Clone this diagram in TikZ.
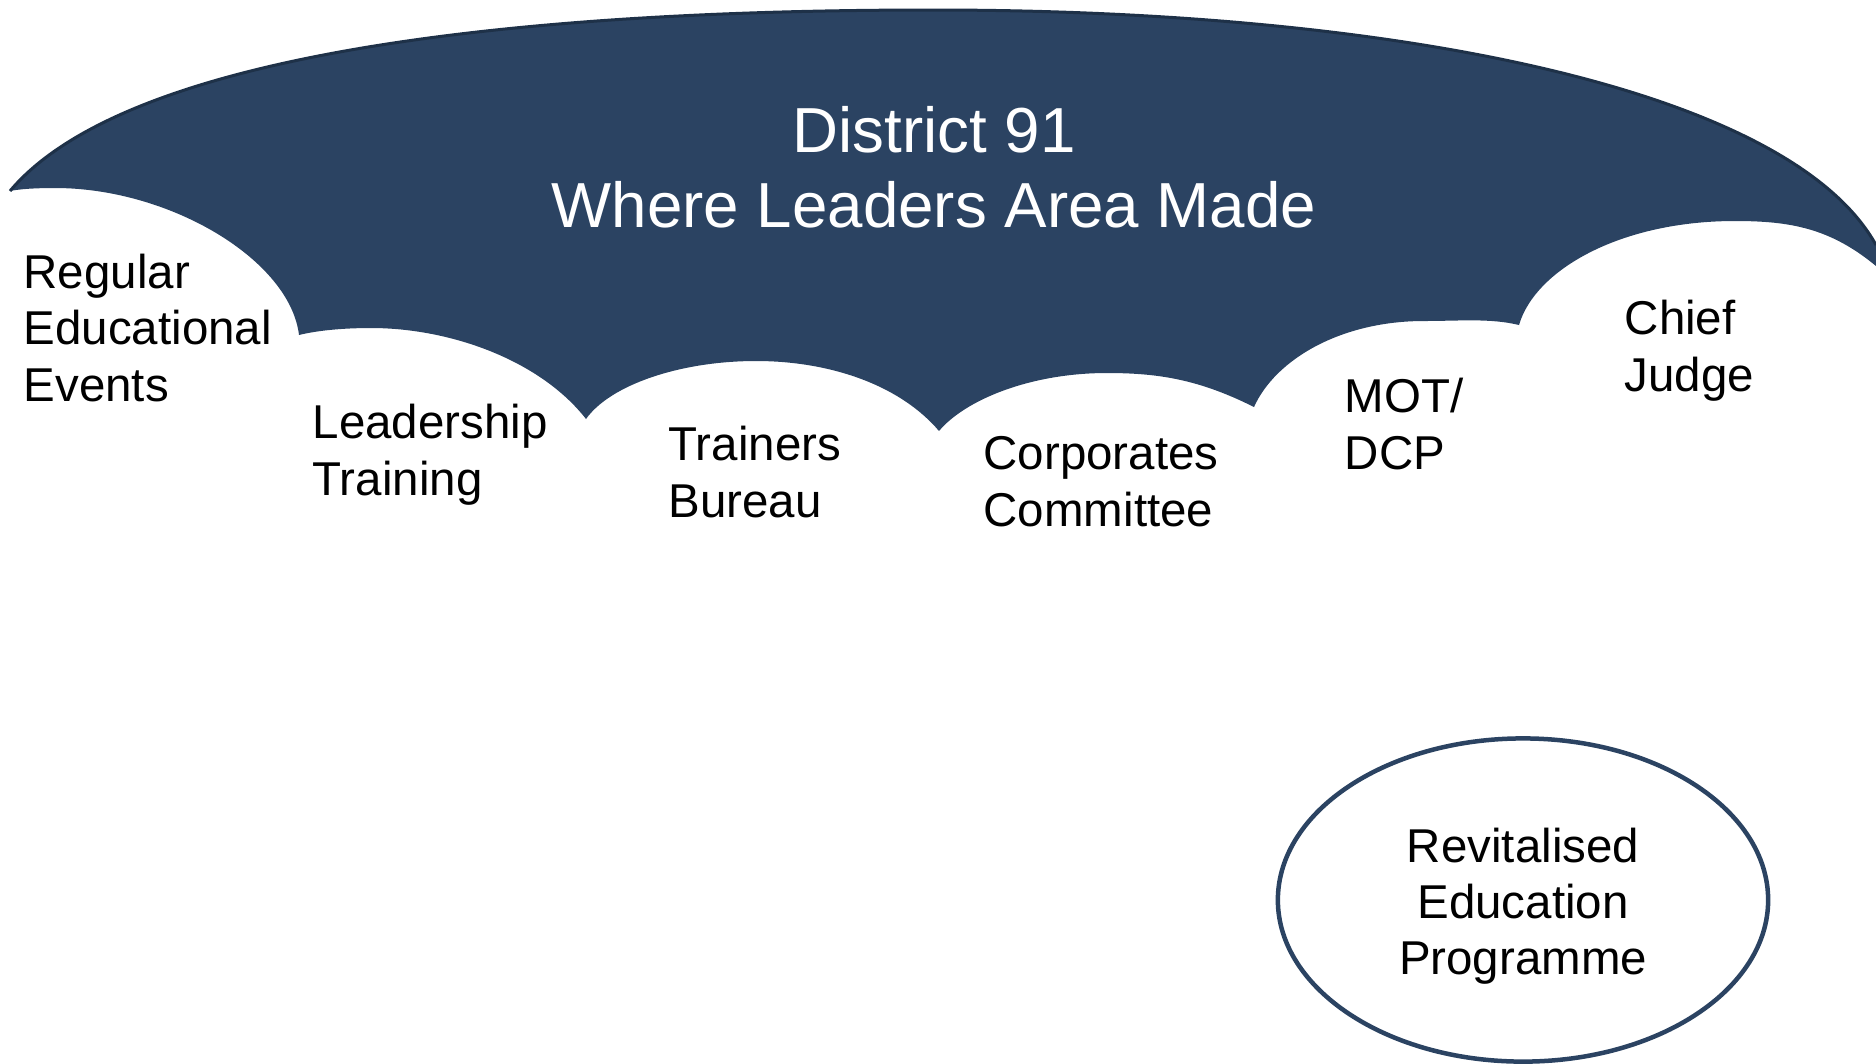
\documentclass[tikz,border=0pt]{standalone}
\usepackage{fontspec}
\setmainfont{Liberation Sans}
\usetikzlibrary{shapes.geometric,positioning}
\definecolor{navy}{RGB}{43,67,98}
\definecolor{navyline}{RGB}{30,49,72}

\begin{document}
\begin{tikzpicture}[x=0.01cm, y=-0.01cm]
   \useasboundingbox (0,0) rectangle (1876,1063);
   \fill[navy] (10,191) .. controls (120,60) and (480,10) .. (933,10)
      .. controls (1400,10) and (1790,90) .. (1876,245)
      -- (1876,266) .. controls (1830,228) and (1790,221) .. (1735,221)
      .. controls (1620,221) and (1535,270) .. (1519,325)
      .. controls (1490,318) and (1460,321) .. (1424,321)
      .. controls (1340,321) and (1275,360) .. (1254,407)
      .. controls (1200,380) and (1160,373) .. (1107,373)
      .. controls (1030,373) and (965,400) .. (939,431)
      .. controls (900,385) and (830,361) .. (756,361)
      .. controls (680,361) and (610,385) .. (586,419)
      .. controls (540,360) and (450,328) .. (371,328)
      .. controls (340,328) and (315,331) .. (299,335)
      .. controls (290,260) and (170,188) .. (55,188)
      .. controls (35,188) and (20,189) .. (10,191) -- cycle;
   \draw[navyline, line width=0.03cm] (10,191) .. controls (120,60) and (480,10) .. (933,10)
      .. controls (1400,10) and (1790,90) .. (1876,245);
   \node[white, align=center, anchor=base, inner sep=0pt, font=\fontsize{18.1}{21.3}\selectfont] (title) at (934,227) {District 91\\Where Leaders Area Made};
   \begin{scope}[every node/.style={anchor=base west, align=left, inner sep=0pt, font=\fontsize{13.5}{16}\selectfont}]
    \node (events) at (23,401) {Regular\\Educational\\Events};
    \node (leader) at (312,495) {Leadership\\Training};
    \node (trainers) at (668,517) {Trainers\\Bureau};
    \node (corp) at (983,526) {Corporates\\Committee};
    \node (mot) at (1344,469) {MOT/\\DCP};
    \node (judge) at (1624,391) {Chief\\Judge};
   \end{scope}
   \node[ellipse, draw=navy, line width=0.045cm, minimum width=4.9cm, minimum height=3.23cm] (revprog) at (1523,900) {};
   \node[align=center, font=\fontsize{13.5}{16}\selectfont] (revtext) at ([yshift=-0.06cm]revprog.center) {Revitalised\\Education\\Programme};
\end{tikzpicture}
\end{document}
